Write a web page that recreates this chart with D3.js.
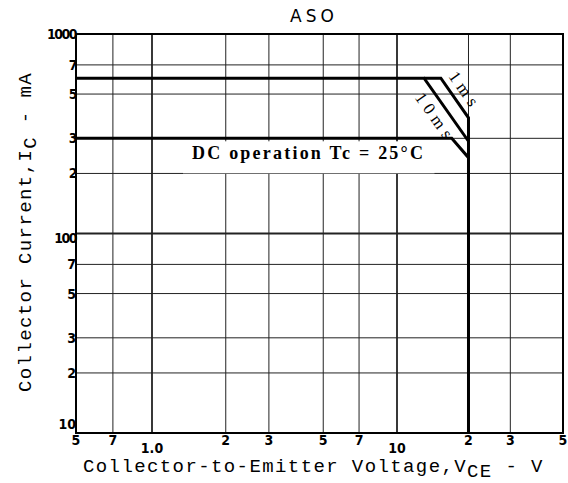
<!DOCTYPE html>
<html>
<head>
<meta charset="utf-8">
<script src="https://cdn.jsdelivr.net/npm/d3@7"></script>
<style>
  body { margin: 0; background: #fff; }
  svg { display: block; }
</style>
</head>
<body>
<div id="vis"></div>
<script>
// tick values and labels
const xTicks = [0.5, 0.7, 1, 2, 3, 5, 7, 10, 20, 30, 50];
const xTickLabels = ['5', '7', '1.0', '2', '3', '5', '7', '10', '2', '3', '5'];
const yTicks = [10, 20, 30, 50, 70, 100, 200, 300, 500, 700, 1000];
const yTickLabels = ['10', '2', '3', '5', '7', '100', '2', '3', '5', '7', '1000'];

// safe operating area boundaries [VCE (V), IC (mA)]
const dcLine = [[0.5, 300], [17, 300], [20, 240], [20, 10]];
const ms10Line = [[0.5, 600], [13, 600], [20, 290]];
const ms1Line = [[13, 600], [15.3, 600], [20, 380], [20, 240]];

const W = 568;
const H = 483;

const svg = d3.select('#vis')
  .append('svg')
  .attr('width', W)
  .attr('height', H);

// x axis of the scan is slightly uneven, so pin decades
const x = d3.scaleLog()
  .domain([0.5, 1, 10, 50])
  .range([76, 152, 397, 563]);
const y = d3.scaleLog()
  .domain([10, 1000])
  .range([433, 34]);

// grid
const grid = svg.append('g');
grid.selectAll('.vg')
  .data(xTicks)
  .enter()
  .append('line')
  .attr('x1', (d) => x(d)).attr('x2', (d) => x(d))
  .attr('y1', y(10)).attr('y2', y(1000))
  .attr('stroke', '#222')
  .attr('stroke-width', (d) => (d === 1 || d === 10) ? 1.8 : 1);
grid.selectAll('.hg')
  .data(yTicks)
  .enter()
  .append('line')
  .attr('x1', x(0.5)).attr('x2', x(50))
  .attr('y1', (d) => y(d)).attr('y2', (d) => y(d))
  .attr('stroke', '#222')
  .attr('stroke-width', (d) => d === 100 ? 1.8 : 1);

// frame
svg.append('rect')
  .attr('x', x(0.5)).attr('y', y(1000))
  .attr('width', x(50) - x(0.5))
  .attr('height', y(10) - y(1000))
  .attr('fill', 'none')
  .attr('stroke', '#000')
  .attr('stroke-width', 2);

// white patch behind DC label
svg.append('rect')
  .attr('x', 183).attr('y', y(300) + 3)
  .attr('width', x(20) - 34 - 183)
  .attr('height', 32)
  .attr('fill', '#fff');

const line = d3.line()
  .x((d) => x(d[0]))
  .y((d) => y(d[1]));

[dcLine, ms10Line, ms1Line].forEach((pts) => {
  svg.append('path')
    .attr('d', line(pts))
    .attr('fill', 'none')
    .attr('stroke', '#000')
    .attr('stroke-width', 3)
    .attr('stroke-linejoin', 'miter');
});

// tick labels
svg.selectAll('.xt')
  .data(xTicks)
  .enter()
  .append('text')
  .attr('x', (d) => x(d))
  .attr('y', (d, i) => (d === 1 || d === 10) ? 453 : 445)
  .attr('text-anchor', 'middle')
  .attr('font-family', 'DejaVu Sans Condensed, DejaVu Sans, sans-serif')
  .attr('font-weight', 'bold')
  .attr('font-size', 14)
  .text((d, i) => xTickLabels[i]);

svg.selectAll('.yt')
  .data(yTicks)
  .enter()
  .append('text')
  .attr('x', 76)
  .attr('y', (d) => y(d) + 5 + (d === 10 ? -9 : 0) + (d === 100 ? 4 : 0))
  .attr('text-anchor', 'end')
  .attr('font-family', 'DejaVu Sans Condensed, DejaVu Sans, sans-serif')
  .attr('font-weight', 'bold')
  .attr('font-size', 14)
  .attr('letter-spacing', (d) => d >= 100 ? -1.5 : 0)
  .text((d, i) => yTickLabels[i]);

// title
svg.append('text')
  .attr('x', 314).attr('y', 22)
  .attr('text-anchor', 'middle')
  .attr('font-family', 'DejaVu Sans, sans-serif')
  .attr('font-size', 17)
  .attr('letter-spacing', 4)
  .text('ASO');

// DC label
svg.append('text')
  .attr('x', 192).attr('y', 159)
  .attr('font-family', 'Liberation Serif, serif')
  .attr('font-weight', 'bold')
  .attr('font-size', 18)
  .attr('textLength', 231)
  .text('DC operation  Tc = 25°C');

/**
 * puts a rotated label along the sloped part of a boundary
 */
function slopeLabel(p0, p1, txt, offset) {
  const x0 = x(p0[0]); const y0 = y(p0[1]);
  const x1 = x(p1[0]); const y1 = y(p1[1]);
  const ang = Math.atan2(y1 - y0, x1 - x0);
  const mx = (x0 + x1) / 2 + offset * Math.sin(ang);
  const my = (y0 + y1) / 2 - offset * Math.cos(ang);
  svg.append('text')
    .attr('transform', 'translate(' + mx + ',' + my + ')rotate(' + (ang * 180 / Math.PI) + ')')
    .attr('text-anchor', 'middle')
    .attr('font-family', 'Liberation Serif, serif')
    .attr('font-size', 17)
    .attr('letter-spacing', 5)
    .text(txt);
}
slopeLabel(ms1Line[1], ms1Line[2], '1ms', 7);
slopeLabel(ms10Line[1], ms10Line[2], '10ms', -19);

// axis titles
const xl = svg.append('text')
  .attr('x', 83).attr('y', 472)
  .attr('font-family', 'Liberation Mono, monospace')
  .attr('font-size', 19)
  .attr('letter-spacing', 1.4);
xl.append('tspan').text('Collector-to-Emitter Voltage,V');
xl.append('tspan').attr('dy', 5).text('CE');
xl.append('tspan').attr('dy', -5).text(' - V');

const yl = svg.append('text')
  .attr('transform', 'translate(31,392)rotate(-90)')
  .attr('font-family', 'Liberation Mono, monospace')
  .attr('font-size', 19)
  .attr('letter-spacing', 1.4);
yl.append('tspan').text('Collector Current,I');
yl.append('tspan').attr('dy', 5).text('C');
yl.append('tspan').attr('dy', -5).text(' - mA');
</script>
</body>
</html>
